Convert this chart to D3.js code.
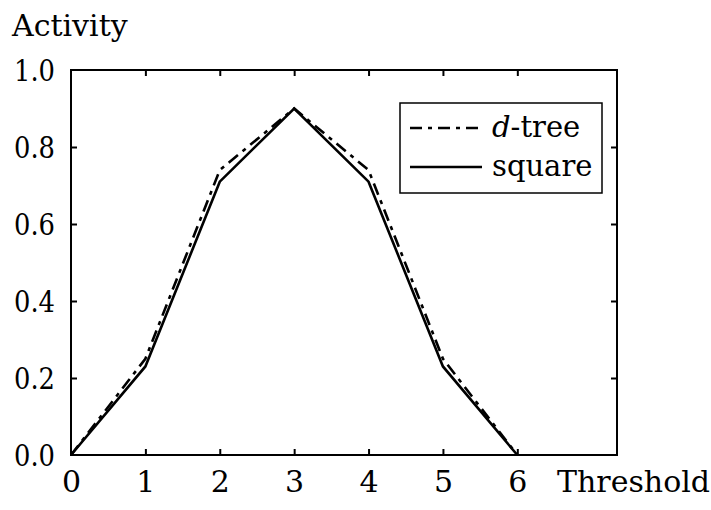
<!DOCTYPE html>
<html>
<head>
<meta charset="utf-8">
<script src="https://cdn.jsdelivr.net/npm/d3@7"></script>
<style>
  html, body { margin: 0; padding: 0; background: #fff; }
  svg { display: block; }
</style>
</head>
<body>
<svg id="chart" width="711" height="510"></svg>
<script>
// Activity against threshold for two lattice geometries
const thresholds = [0, 1, 2, 3, 4, 5, 6];
const dtreeActivity = [0.0, 0.25, 0.74, 0.90, 0.74, 0.25, 0.0];
const squareActivity = [0.0, 0.23, 0.71, 0.90, 0.71, 0.23, 0.0];
const xTicks = [0, 1, 2, 3, 4, 5, 6];
const yTicks = [0.0, 0.2, 0.4, 0.6, 0.8, 1.0];
const seriesNames = ["d-tree", "square"];

const W = 711, H = 510;
const margin = { left: 71, right: 94, top: 70, bottom: 55 };
const svg = d3.select("#chart");
const FONT = "'DejaVu Serif', serif";

const x = d3.scaleLinear().domain([0, 7.34]).range([margin.left, W - margin.right]);
const y = d3.scaleLinear().domain([0, 1]).range([H - margin.bottom, margin.top]);

const fontSize = 30;
const tickLen = 6;

// Inward ticks on all four sides
const g = svg.append("g");
const axisBottom = d3.axisBottom(x).tickValues(xTicks).tickSizeInner(-tickLen).tickSizeOuter(0).tickFormat(d3.format("d"));
const axisTop = d3.axisTop(x).tickValues(xTicks.filter(d => d > 0)).tickSizeInner(-tickLen).tickSizeOuter(0).tickFormat("");
const axisLeft = d3.axisLeft(y).tickValues(yTicks).tickSizeInner(-tickLen).tickSizeOuter(0).tickFormat(d3.format(".1f"));
const axisRight = d3.axisRight(y).tickValues(yTicks.filter(d => d > 0 && d < 1)).tickSizeInner(-tickLen).tickSizeOuter(0).tickFormat("");

function styleAxis(sel) {
  sel.attr("font-family", null).attr("font-size", null);
  sel.select(".domain").remove();
  sel.selectAll(".tick line").attr("stroke", "#000").attr("stroke-width", 2);
  sel.selectAll(".tick text")
    .style("font-family", FONT)
    .style("font-size", fontSize + "px").attr("fill", "#000");
}

const gb = g.append("g").attr("transform", `translate(0,${y(0)})`).call(axisBottom).call(styleAxis);
gb.selectAll(".tick text").attr("dy", "0").attr("y", 37);
gb.selectAll(".tick").filter(d => d === 0).select("line").remove();

g.append("g").attr("transform", `translate(0,${y(1)})`).call(axisTop).call(styleAxis);

const gl = g.append("g").attr("transform", `translate(${x(0)},0)`).call(axisLeft).call(styleAxis);
gl.selectAll(".tick text").attr("x", -16).attr("dy", "0.36em")
  .attr("textLength", 41).attr("lengthAdjust", "spacingAndGlyphs");
gl.selectAll(".tick").filter(d => d === 0 || d === 1).select("line").remove();

g.append("g").attr("transform", `translate(${x(7.34)},0)`).call(axisRight).call(styleAxis);

// Frame
svg.append("rect")
  .attr("x", x(0)).attr("y", y(1))
  .attr("width", x(7.34) - x(0)).attr("height", y(0) - y(1))
  .attr("fill", "none").attr("stroke", "#000").attr("stroke-width", 2);

// Axis titles
svg.append("text").attr("x", 12).attr("y", 36)
  .style("font-family", FONT)
  .style("font-size", fontSize + "px").text("Activity");
svg.append("text").attr("x", 557).attr("y", y(0) + 37)
  .style("font-family", FONT)
  .style("font-size", fontSize + "px").text("Threshold");

// Series lines
const line = d3.line().x((d, i) => x(thresholds[i])).y(d => y(d));
const dashPattern = "12,6,4,6";

svg.append("path").datum(dtreeActivity)
  .attr("d", line).attr("fill", "none").attr("stroke", "#000")
  .attr("stroke-width", 2.6).attr("stroke-dasharray", dashPattern);

svg.append("path").datum(squareActivity)
  .attr("d", line).attr("fill", "none").attr("stroke", "#000")
  .attr("stroke-width", 2.6);

// Legend
const lg = svg.append("g");
lg.append("rect").attr("x", 400).attr("y", 103).attr("width", 202).attr("height", 90)
  .attr("fill", "#fff").attr("stroke", "#000").attr("stroke-width", 1.5);

const legendRows = [
  { name: seriesNames[0], dash: dashPattern, yy: 128 },
  { name: seriesNames[1], dash: null, yy: 167 }
];
legendRows.forEach(r => {
  lg.append("line").attr("x1", 410).attr("x2", 482).attr("y1", r.yy).attr("y2", r.yy)
    .attr("stroke", "#000").attr("stroke-width", 2.6)
    .attr("stroke-dasharray", r.dash);
  const t = lg.append("text").attr("x", 492).attr("y", r.yy).attr("dy", "0.3em")
    .style("font-family", FONT)
    .style("font-size", "29px");
  if (r.name === "d-tree") {
    t.append("tspan").style("font-style", "italic").text("d");
    t.append("tspan").text("-tree");
  } else {
    t.text(r.name);
  }
});
</script>
</body>
</html>
